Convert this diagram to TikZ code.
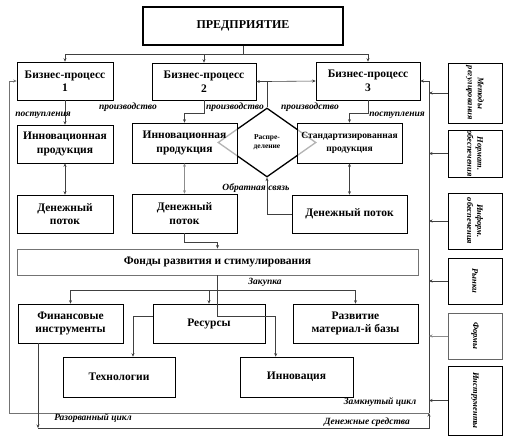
\documentclass[tikz,border=0pt]{standalone}
\usepackage{fontspec}
\setmainfont{Liberation Serif}
\usetikzlibrary{arrows.meta,shapes.geometric,calc}
\begin{document}
\begin{tikzpicture}[x=1pt,y=-1pt,
  box/.style={draw=black,line width=0.6pt,fill=white,align=center,inner sep=0pt,
    font=\bfseries\fontsize{11.5}{13.5}\selectfont},
  sidebox/.style={draw=black,line width=0.6pt,fill=white,align=center,inner sep=0pt,
    minimum width=54pt},
  sidetxt/.style={rotate=-90,align=center,font=\bfseries\itshape\fontsize{8.5}{10}\selectfont},
  lbl/.style={font=\bfseries\itshape\fontsize{9.5}{11}\selectfont,inner sep=0pt},
  ln/.style={draw=black!75,line width=0.6pt},
  arr/.style={ln,-{Stealth[length=3.5pt,width=3pt]}},
  darr/.style={ln,{Stealth[length=3.5pt,width=3pt]}-{Stealth[length=3.5pt,width=3pt]}},
  frame/.style={draw=black!55,line width=0.9pt}]
\useasboundingbox[fill=white] (0,0) rectangle (506,439);

% diamond first (partly covered by boxes)
\node[diamond,draw=black,line width=1.3pt,minimum width=98pt,minimum height=69pt,inner sep=0pt,
  font=\bfseries\fontsize{7.5}{9}\selectfont,align=center] (dia) at (267,142.5) {Распре-\\деление};

% boxes
\node[box,line width=2pt,minimum width=200pt,minimum height=38pt,font=\bfseries\fontsize{12}{14}\selectfont] (ent) at (243,26) {ПРЕДПРИЯТИЕ};
\node[box,minimum width=96pt,minimum height=38pt] (bp1) at (65,81) {Бизнес-процесс\\1};
\node[box,minimum width=104pt,minimum height=37pt] (bp2) at (204,81.5) {Бизнес-процесс\\2};
\node[box,minimum width=104pt,minimum height=38pt] (bp3) at (368,81) {Бизнес-процесс\\3};
\node[box,minimum width=96pt,minimum height=38pt] (inn1) at (65,144) {Инновационная\\продукция};
\node[box,minimum width=105pt,minimum height=40pt,fill opacity=0.7,text opacity=1] (inn2) at (184.5,143) {Инновационная\\продукция};
\node[box,minimum width=105pt,minimum height=40pt,fill opacity=0.7,text opacity=1,font=\bfseries\fontsize{9.5}{13.5}\selectfont] (std) at (349.5,143) {Стандартизированная\\продукция};
\node[box,minimum width=96pt,minimum height=38pt] (den1) at (65,214) {Денежный\\поток};
\node[box,minimum width=105pt,minimum height=39pt] (den2) at (184.5,213.5) {Денежный\\поток};
\node[box,minimum width=115pt,minimum height=38pt] (den3) at (349.5,214) {Денежный поток};
\node[box,draw=black!55,line width=0.9pt,minimum width=401pt,minimum height=26pt] (fond) at (217.5,262) {Фонды развития и стимулирования};
\node[box,minimum width=105pt,minimum height=39pt] (fin) at (70.5,323.5) {Финансовые\\инструменты};
\node[box,minimum width=112pt,minimum height=39pt] (res) at (209,323.5) {Ресурсы};
\node[box,minimum width=125pt,minimum height=39pt] (razv) at (355.5,323.5) {Развитие\\материал-й базы};
\node[box,minimum width=112pt,minimum height=40pt] (tech) at (119,377) {Технологии};
\node[box,minimum width=113pt,minimum height=40pt] (innov) at (296.5,377) {Инновация};

% side boxes
\node[sidebox,minimum height=60pt] (r1) at (475,93) {};
\node[sidebox,minimum height=47pt] (r2) at (475,153.5) {};
\node[sidebox,minimum height=56pt] (r3) at (475,221) {};
\node[sidebox,minimum height=46pt] (r4) at (475,281) {};
\node[sidebox,draw=black!60,minimum height=46pt] (r5) at (475,336) {};
\node[sidebox,minimum height=69pt] (r6) at (475,400.5) {};
\node[sidetxt] at (r1) {Методы\\регулирования};
\node[sidetxt] at (r2) {Нормат.\\обеспечения};
\node[sidetxt] at (r3) {Информ.\\обеспечения};
\node[sidetxt] at (r4) {Рынки};
\node[sidetxt] at (r5) {Формы};
\node[sidetxt] at (r6) {Инструменты};

% frame coordinates
\coordinate (lb) at (9,413);
\coordinate (rb) at (429,413);
\coordinate (bl) at (38,428);

% connectors from enterprise
\draw[ln] (ent.south) -- ++(0,8) coordinate (ej);
\draw[arr] (ej) -| (bp1.north);
\draw[arr] (ej) -| (bp2.north);
\draw[arr] (ej) -| (bp3.north);

% business process to products
\draw[arr] (bp1.south) -- (inn1.north);
\draw[arr] (bp2.south) -- ++(0,13) -| (inn2.north);
\draw[arr] (bp3.south) -- ++(0,13) -| (std.north);

% products to money
\draw[darr] (inn1.south) -- (den1.north);
\draw[darr,draw=black!45] (inn2.south) -- (den2.north);
\draw[darr] (std.south) -- (den3.north);

% diamond links
\draw[ln] (dia.north) -- (dia.north |- bp2.east) coordinate (dj);
\draw[arr] (dj) -- (bp2.east);
\draw[arr] (dj) -- (bp3.west);
\draw[arr] (den3.west) -| (dia.south);

% money to fonds
\draw[arr] (den2.south) -- ++(0,9) -| (fond.north);

% purchase line
\coordinate (zk) at ($(fond.south)+(0,15)$);
\draw[arr] (zk) -| (fin.north);
\draw[arr] (zk) -| (res.north);
\draw[arr] (zk) -| (razv.north);
\draw[arr] (fond.south) -- ++(0,41) -| ($(innov.north west)+(36,0)$);
\draw[arr] ($(res.west)+(0,-7.5)$) -| ($(tech.north)+(14,0)$);

% closed cycle frame
\draw[arr,frame] (lb) |- (bp1.west);
\draw[frame] (lb) -- (rb);
\draw[arr] (rb) |- (bp3.east);
\foreach \r in {r1,r2,r3,r4,r6} \draw[arr] (\r.west) -- (\r.west -| rb);
\draw[arr,draw=black!45] (r5.west) -- (r5.west -| rb);

% broken cycle
\draw[arr] (fin.south -| bl) -- (bl);
\draw[arr] (bl) -| (rb);

% labels
\node[lbl] at (43,115) {поступления};
\node[lbl] at (128,107) {производство};
\node[lbl] at (235,107) {производство};
\node[lbl] at (310,107) {производство};
\node[lbl] at (397,115) {поступления};
\node[lbl] at (256,188) {Обратная связь};
\node[lbl] at (265,282) {Закупка};
\node[lbl] at (380,402) {Замкнутый цикл};
\node[lbl] at (367,422) {Денежные средства};
\node[lbl] at (93,418) {Разорванный цикл};
\end{tikzpicture}
\end{document}
